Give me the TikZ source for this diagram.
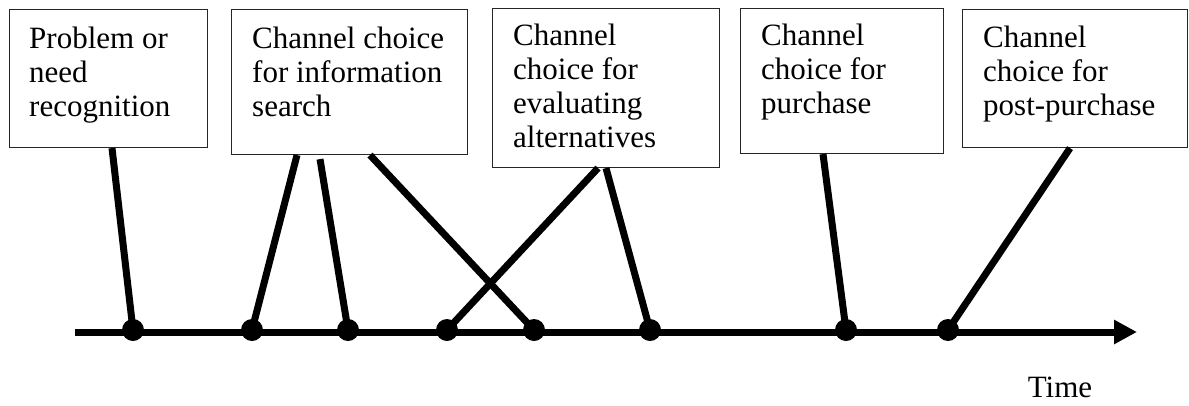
\documentclass[tikz,border=0pt]{standalone}
\usepackage{fontspec}
\setmainfont{Liberation Serif}
\usetikzlibrary{arrows.meta,calc}
\begin{document}
\begin{tikzpicture}[x=1pt,y=-1pt,
  stagebox/.style={draw=black!85,line width=1.1pt,anchor=north west,inner sep=0pt},
  stagetext/.style={anchor=north west,inner sep=0pt,align=left,font=\fontsize{31}{34}\selectfont},
  link/.style={line width=7pt},
  event/.style={circle,fill=black,inner sep=0pt,minimum size=22pt},
  timeaxis/.style={line width=7pt,-{Triangle[length=23pt,width=23pt]}}]
\useasboundingbox (0,0) rectangle (1189,405);

% stage boxes
\node[stagebox,minimum width=198pt,minimum height=138pt] (b1) at (9,9) {};
\node[stagebox,minimum width=236pt,minimum height=145pt] (b2) at (231,9) {};
\node[stagebox,minimum width=227pt,minimum height=159pt] (b3) at (492,8) {};
\node[stagebox,minimum width=203pt,minimum height=145pt] (b4) at (740,8) {};
\node[stagebox,minimum width=225pt,minimum height=138pt] (b5) at (962,9) {};

% box labels
\node[stagetext] (t1) at ($(b1.north west)+(20,18)$) {Problem or\\need\\recognition};
\node[stagetext] (t2) at ($(b2.north west)+(21,18)$) {Channel choice\\for information\\search};
\node[stagetext] (t3) at ($(b3.north west)+(21,16)$) {Channel\\choice for\\evaluating\\alternatives};
\node[stagetext] (t4) at ($(b4.north west)+(21,16)$) {Channel\\choice for\\purchase};
\node[stagetext] (t5) at ($(b5.north west)+(21,17)$) {Channel\\choice for\\post-purchase};

% connector start points on the box bottoms
\coordinate (s1)  at ($(b1.south west)+(103,0)$);
\coordinate (s2a) at ($(b2.south west)+(66,0)$);
\coordinate (s2b) at ($(b2.south west)+(89,4)$);
\coordinate (s2c) at ($(b2.south west)+(139,0)$);
\coordinate (s3a) at ($(b3.south west)+(106,0)$);
\coordinate (s3b) at ($(b3.south west)+(114,0)$);
\coordinate (s4)  at ($(b4.south west)+(83,0)$);
\coordinate (s5)  at ($(b5.south west)+(108,0)$);

% time axis
\coordinate (tstart) at (75,332);
\coordinate (tend) at (1137,332);
\draw[timeaxis] (tstart) -- (tend);

% event points on the axis
\coordinate (p1) at (133,330);
\coordinate (p2) at (252,330);
\coordinate (p3) at (348,330);
\coordinate (p4) at (447,330);
\coordinate (p5) at (534,330);
\coordinate (p6) at (650,330);
\coordinate (p7) at (846,330);
\coordinate (p8) at (948,330);

% connectors
\draw[link] (s1) -- (p1);
\draw[link] (s2a) -- (p2);
\draw[link] (s2b) -- (p3);
\draw[link] (s2c) -- (p5);
\draw[link] (s3a) -- (p4);
\draw[link] (s3b) -- (p6);
\draw[link] (s4) -- (p7);
\draw[link] (s5) -- (p8);

\foreach \i in {1,...,8} \node[event] (e\i) at (p\i) {};

\node[anchor=base,inner sep=0pt,font=\fontsize{31}{34}\selectfont] (time) at (1060,397) {Time};
\end{tikzpicture}
\end{document}
